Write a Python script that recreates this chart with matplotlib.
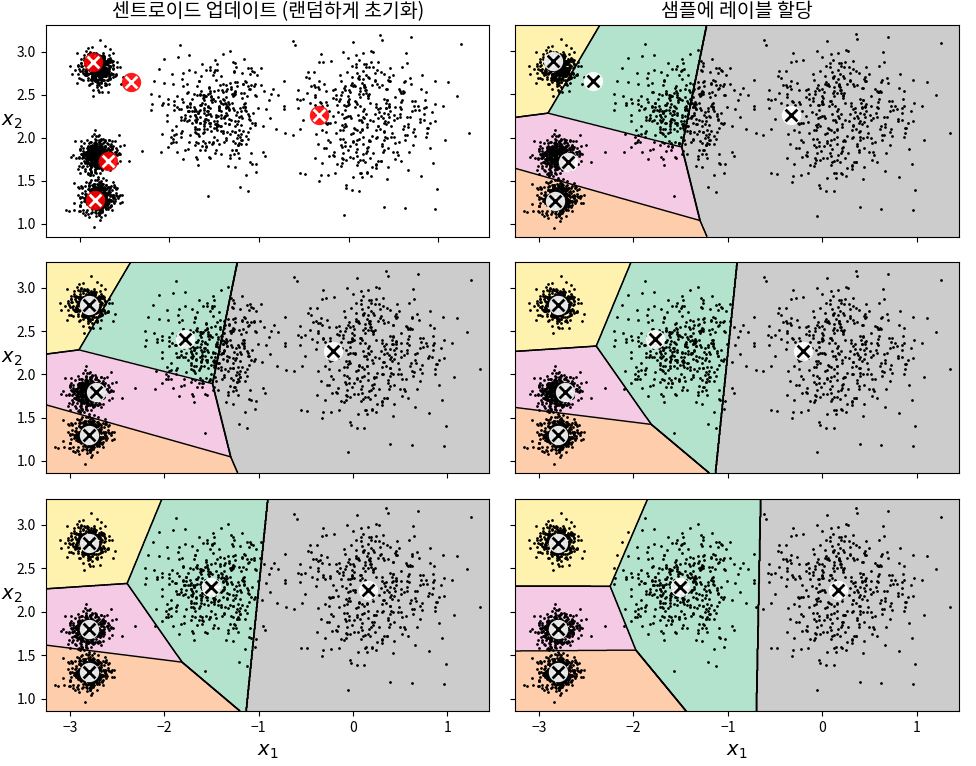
import numpy as np
import matplotlib
matplotlib.use("Agg")
import matplotlib.pyplot as plt

plt.rcParams['font.family'] = ['Noto Sans CJK KR', 'DejaVu Sans']
plt.rcParams['axes.unicode_minus'] = True

# blobs (same parameters as the original make_blobs call, random_state=7)
blob_centers = np.array([[0.2, 2.3], [-1.5, 2.3], [-2.8, 1.8], [-2.8, 2.8], [-2.8, 1.3]])
blob_std = np.array([0.4, 0.3, 0.1, 0.1, 0.1])
n_per_blob = 400

# centroids, order: top-left, middle, mid-left, low-left, right
centroids_iter1 = np.array([[-2.853, 2.880], [-2.433, 2.653], [-2.690, 1.723], [-2.830, 1.268], [-0.333, 2.260]])
centroids_iter2 = np.array([[-2.800, 2.800], [-1.776, 2.412], [-2.728, 1.800], [-2.796, 1.300], [-0.210, 2.265]])
centroids_iter3 = np.array([[-2.797, 2.790], [-1.506, 2.281], [-2.800, 1.802], [-2.796, 1.304], [0.160, 2.250]])

region_colors = ['#fff2ae', '#b3e2cd', '#f4cae4', '#fdcdac', '#cccccc']

titles = ['센트로이드 업데이트 (랜덤하게 초기화)', '샘플에 레이블 할당']

rng = np.random.RandomState(7)
X = np.concatenate([rng.normal(loc=c, scale=s, size=(n_per_blob, 2))
                    for c, s in zip(blob_centers, blob_std)])

mins = X.min(axis=0) - 0.1
maxs = X.max(axis=0) + 0.1


def plot_data(ax):
    ax.plot(X[:, 0], X[:, 1], 'k.', markersize=2)


def plot_centroids(ax, centroids, circle_color='w', cross_color='k'):
    ax.scatter(centroids[:, 0], centroids[:, 1], marker='o', s=35, linewidths=8,
               color=circle_color, zorder=10, alpha=0.9)
    ax.scatter(centroids[:, 0], centroids[:, 1], marker='x', s=2, linewidths=12,
               color=cross_color, zorder=11, alpha=1)


def plot_boundaries(ax, centroids, resolution=1000):
    xx, yy = np.meshgrid(np.linspace(mins[0], maxs[0], resolution),
                         np.linspace(mins[1], maxs[1], resolution))
    d = (xx[..., None] - centroids[:, 0]) ** 2 + (yy[..., None] - centroids[:, 1]) ** 2
    Z = d.argmin(axis=2)
    ax.contourf(xx, yy, Z, levels=np.arange(-0.5, 5, 1), colors=region_colors)
    ax.contour(xx, yy, Z, levels=np.arange(0.5, 4, 1), linewidths=1, colors='k')
    plot_data(ax)
    ax.set_xlim(mins[0], maxs[0])
    ax.set_ylim(mins[1], maxs[1])


fig = plt.figure(figsize=(9.76, 7.66), dpi=100)
W, H = 976, 766
col_x = [46, 515]
col_w = [443.3, 444]
row_top = [25, 262, 499]
row_h = [211.7, 211, 212]
axes = []
for r in range(3):
    row = []
    for c in range(2):
        ax = fig.add_axes([col_x[c] / W, 1 - (row_top[r] + row_h[r]) / H,
                           col_w[c] / W, row_h[r] / H])
        row.append(ax)
    axes.append(row)

# row 1
ax = axes[0][0]
plot_data(ax)
plot_centroids(ax, centroids_iter1, circle_color='r', cross_color='w')
ax.set_title(titles[0], fontsize=14)
ax = axes[0][1]
plot_boundaries(ax, centroids_iter1)
plot_centroids(ax, centroids_iter1)
ax.set_title(titles[1], fontsize=14)

# row 2
plot_boundaries(axes[1][0], centroids_iter1)
plot_centroids(axes[1][0], centroids_iter2)
plot_boundaries(axes[1][1], centroids_iter2)
plot_centroids(axes[1][1], centroids_iter2)

# row 3
plot_boundaries(axes[2][0], centroids_iter2)
plot_centroids(axes[2][0], centroids_iter3)
plot_boundaries(axes[2][1], centroids_iter3)
plot_centroids(axes[2][1], centroids_iter3)

for r in range(3):
    for c in range(2):
        ax = axes[r][c]
        ax.set_xticks([-3, -2, -1, 0, 1])
        ax.set_yticks([1.0, 1.5, 2.0, 2.5, 3.0])
        if r < 2:
            ax.tick_params(labelbottom=False)
        else:
            ax.set_xlabel('$x_1$', fontsize=14)
        if c == 1:
            ax.tick_params(labelleft=False)
        else:
            ax.set_ylabel('$x_2$', fontsize=14, rotation=0)

fig.savefig('out.png', dpi=100)
